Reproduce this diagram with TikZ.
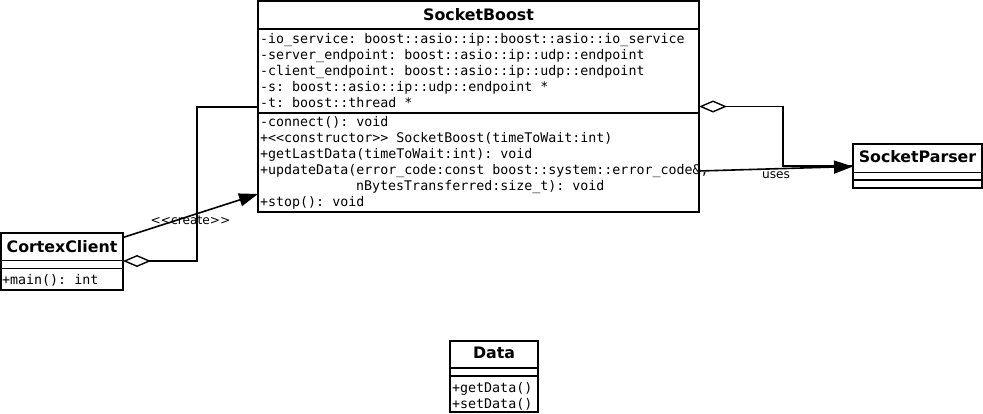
\documentclass[tikz,border=0pt]{standalone}
\usepackage{fontspec}
\setmainfont{DejaVu Sans}
\newfontfamily\monofont{DejaVu Sans Mono}
\newfontfamily\titlefont{DejaVu Sans}
\usetikzlibrary{arrows.meta}
\frenchspacing
\begin{document}
\begin{tikzpicture}[x=1pt,y=-1pt,
  umlbox/.style={draw,line width=1.6pt,inner sep=0pt,outer sep=0pt,fill=white},
  divline/.style={line width=1.6pt},
  ctitle/.style={font=\titlefont\bfseries\fontsize{15.8}{18}\selectfont,anchor=base,inner sep=0pt},
  member/.style={font=\monofont\frenchspacing\fontsize{13.3}{16}\selectfont,anchor=base west,inner sep=0pt},
  conn/.style={line width=1.6pt},
  elabel/.style={font=\fontsize{12.2}{14}\selectfont,inner sep=0pt},
  aggr/.style={conn,{Diamond[open,length=28pt,width=12pt,line width=1.4pt]}-},
  assoc/.style={conn,-{Triangle[length=19pt,width=13pt]}}
]
\useasboundingbox (0,0) rectangle (983,413);
% SocketBoost
\node[umlbox,minimum width=441pt,minimum height=211pt] (sb) at (478.5,106.5) {};
\draw[divline] (258,29) -- (699,29);
\draw[divline] (258,113) -- (699,113);
\node[ctitle] (sbt) at (478.5,20.5) {SocketBoost};
\node[member] (sa1) at (260,43.5) {-io\_service: boost::asio::ip::boost::asio::io\_service};
\node[member] (sa2) at (260,59.5) {-server\_endpoint: boost::asio::ip::udp::endpoint};
\node[member] (sa3) at (260,75.5) {-client\_endpoint: boost::asio::ip::udp::endpoint};
\node[member] (sa4) at (260,91.5) {-s: boost::asio::ip::udp::endpoint *};
\node[member] (sa5) at (260,107.5) {-t: boost::thread *};
\node[member] (sm1) at (260,126.5) {-connect(): void};
\node[member] (sm2) at (260,142.5) {+<{}<constructor>{}> SocketBoost(timeToWait:int)};
\node[member] (sm3) at (260,158.5) {+getLastData(timeToWait:int): void};
\node[member] (sm4) at (260,174.5) {+updateData(error\_code:const boost::system::error\_code\&,};
\node[member] (sm5) at (356,190.5) {nBytesTransferred:size\_t): void};
\node[member] (sm6) at (260,206.5) {+stop(): void};
% CortexClient
\node[umlbox,minimum width=122pt,minimum height=57pt] (cc) at (62,261.5) {};
\draw[divline] (1,260.5) -- (123,260.5);
\draw[divline] (1,268.5) -- (123,268.5);
\node[ctitle] (cct) at (62,252.5) {CortexClient};
\node[member] (ccm) at (2,284) {+main(): int};
% SocketParser
\node[umlbox,minimum width=129pt,minimum height=44pt] (sp) at (917.5,166) {};
\draw[divline] (853,172.5) -- (982,172.5);
\draw[divline] (853,180) -- (982,180);
\node[ctitle] (spt) at (917.5,162.5) {SocketParser};
% Data
\node[umlbox,minimum width=88pt,minimum height=71pt] (dt) at (494,376.5) {};
\draw[divline] (450,368) -- (538,368);
\draw[divline] (450,376) -- (538,376);
\node[ctitle] (dtt) at (494,358.5) {Data};
\node[member] (dm1) at (452,392) {+getData()};
\node[member] (dm2) at (452,408) {+setData()};
% connectors
\coordinate (c1) at (197,261);
\coordinate (c2) at (197,107);
\draw[aggr] (cc.east |- c1) -- (c1) -- (c2) -- (sb.west |- c2);
\draw[assoc] ([yshift=-4.5pt]cc.north east) -- ([yshift=18pt]sb.south west) node[elabel,pos=0.5,below=-1pt] (crl) {<{}<create>{}>};
\coordinate (c3) at (783,106.5);
\coordinate (c4) at (783,166);
\draw[aggr] (sb.east |- c3) -- (c3) -- (c4) -- (sp.west |- c4);
\draw[assoc] ([yshift=-170pt]sb.north east) -- ([yshift=-0.5pt]sp.west) node[elabel,pos=0.5,below=2pt] (usl) {uses};
\end{tikzpicture}
\end{document}
